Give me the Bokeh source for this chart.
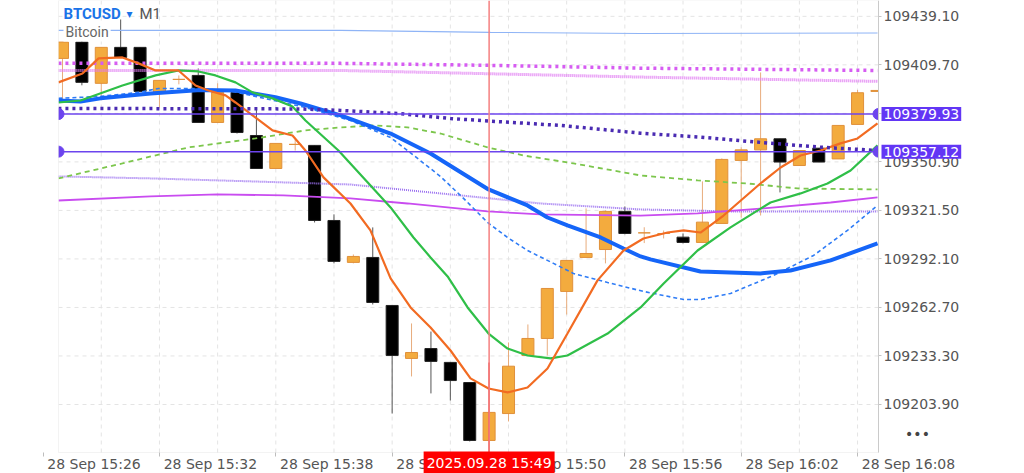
from bokeh.plotting import figure
from bokeh.models import (Range1d, FixedTicker, PrintfTickFormatter, Label, Span, ColumnDataSource,
                          LinearAxis, BoxAnnotation)
from bokeh.embed import file_html
from bokeh.resources import INLINE

# ---------------- data ----------------
minutes = ["15:27", "15:28", "15:29", "15:30", "15:31", "15:32", "15:33", "15:34", "15:35", "15:36",
           "15:37", "15:38", "15:39", "15:40", "15:41", "15:42", "15:43", "15:44", "15:45", "15:46",
           "15:47", "15:48", "15:49", "15:50", "15:51", "15:52", "15:53", "15:54", "15:55", "15:56",
           "15:57", "15:58", "15:59", "16:00", "16:01", "16:02", "16:03", "16:04", "16:05", "16:06",
           "16:07", "16:08", "16:09"]
opens = [109413.6, 109423.5, 109398.5, 109420.3, 109420.3, 109393.0, 109400.9, 109403.3, 109374.8, 109393.0,
         109366.9, 109346.9, 109361.5, 109360.9, 109315.4, 109290.0, 109293.0, 109263.9, 109231.8, 109237.8,
         109229.4, 109217.2, 109182.1, 109198.4, 109233.6, 109243.9, 109272.4, 109293.0, 109297.8, 109320.9,
         109307.9, 109307.5, 109305.3, 109302.1, 109313.6, 109351.8, 109358.2, 109364.9, 109348.7, 109359.2,
         109352.7, 109373.6, 109393.6]
highs = [109423.5, 109424.0, 109420.3, 109437.2, 109420.3, 109400.3, 109403.3, 109407.5, 109398.5, 109393.0,
         109383.9, 109362.1, 109364.5, 109360.9, 109319.1, 109294.8, 109311.2, 109263.9, 109253.0, 109248.1,
         109229.4, 109217.2, 109199.1, 109241.5, 109252.4, 109274.2, 109291.2, 109322.7, 109321.5, 109323.9,
         109311.3, 109309.3, 109307.5, 109339.1, 109353.0, 109359.7, 109405.1, 109364.9, 109357.8, 109359.2,
         109373.0, 109394.5, 109394.2]
lows = [109388.3, 109397.3, 109388.3, 109414.2, 109393.6, 109383.9, 109397.9, 109374.8, 109374.8, 109368.1,
        109346.9, 109346.9, 109357.8, 109314.2, 109289.4, 109289.4, 109264.5, 109198.4, 109220.9, 109210.6,
        109206.3, 109181.5, 109182.1, 109193.6, 109233.6, 109233.6, 109258.4, 109293.0, 109289.4, 109307.0,
        109301.7, 109304.5, 109301.5, 109302.1, 109313.6, 109317.2, 109318.4, 109332.4, 109348.7, 109350.8,
        109352.7, 109373.6, 109393.6]
closes = [109423.5, 109399.1, 109420.3, 109414.2, 109393.6, 109400.3, 109400.9, 109374.8, 109393.0, 109368.7,
          109346.9, 109362.1, 109361.5, 109315.4, 109290.6, 109293.6, 109265.7, 109233.6, 109235.4, 109230.0,
          109218.4, 109182.1, 109199.1, 109227.1, 109243.9, 109274.2, 109291.2, 109295.4, 109320.9, 109307.5,
          109307.9, 109307.5, 109302.1, 109314.4, 109352.4, 109358.2, 109364.9, 109350.8, 109357.8, 109350.8,
          109373.0, 109392.8, 109394.2]

# indicator lines (x = minute index counted from 15:27)
lightblue_x = [-0.21, 14.34, 22.07, 29.81, 42.03]
lightblue_y = [109430.6, 109430.6, 109429.4, 109428.7, 109429.0]
magdot_x = [-0.21, 14.34, 22.07, 29.81, 42.03]
magdot_y = [109410.6, 109410.6, 109409.4, 109407.7, 109406.3]
magfine_x = [-0.21, 14.34, 22.07, 29.81, 42.03]
magfine_y = [109406.3, 109406.3, 109404.3, 109402.3, 109399.7]
indigo_x = [-0.21, 12.27, 14.34, 17.43, 20.01, 22.07, 25.68, 29.81, 32.90, 36.0, 39.09, 42.03]
indigo_y = [109383.3, 109383.0, 109382.1, 109380.1, 109377.2, 109375.6, 109373.0, 109368.3, 109365.9,
            109362.7, 109359.8, 109357.8]
blue_x = [-0.21, 0.93, 1.96, 4.54, 7.12, 8.92, 10.98, 12.27, 14.34, 16.92, 18.98, 21.97, 23.98, 25.01,
          26.04, 27.75, 28.93, 29.81, 30.32, 32.90, 35.99, 37.54, 39.61, 42.03]
blue_y = [109388.1, 109387.5, 109389.4, 109392.4, 109394.5, 109394.2, 109390.1, 109386.3, 109379.1,
          109368.1, 109356.0, 109334.2, 109324.5, 109317.2, 109312.4, 109305.1, 109298.4, 109293.6,
          109291.8, 109284.5, 109283.3, 109285.1, 109291.2, 109301.5]
bluedash_x = [-0.21, 1.96, 3.92, 4.95, 7.01, 8.77, 9.95, 12.53, 14.85, 16.92, 17.79, 19.49, 20.68, 21.92,
              22.95, 23.98, 25.32, 26.35, 28.11, 29.96, 32.03, 32.90, 34.45, 36.67, 38.73, 40.48, 42.03]
bluedash_y = [109389.4, 109390.6, 109393.0, 109395.4, 109395.4, 109393.6, 109390.6, 109383.9, 109376.0,
              109365.7, 109357.8, 109342.1, 109328.8, 109314.2, 109305.1, 109297.2, 109289.4, 109283.3,
              109277.8, 109272.4, 109267.5, 109267.5, 109271.2, 109282.1, 109294.2, 109309.4, 109324.5]
green_x = [-0.21, 0.93, 3.09, 4.80, 5.98, 7.01, 7.89, 8.92, 9.80, 10.83, 11.86, 12.53, 14.23, 15.73, 16.92,
           18.10, 18.98, 19.86, 20.89, 21.97, 22.95, 23.98, 25.17, 26.04, 28.11, 29.81, 31.0, 32.75, 34.45,
           36.51, 38.06, 39.45, 40.64, 42.03]
green_y = [109386.9, 109388.1, 109397.2, 109403.3, 109406.3, 109405.7, 109403.3, 109399.1, 109393.0,
           109389.4, 109384.5, 109376.0, 109357.8, 109338.5, 109323.3, 109305.1, 109293.0, 109281.5,
           109262.7, 109246.9, 109237.8, 109233.6, 109231.8, 109233.6, 109246.9, 109262.7, 109277.2,
           109297.2, 109311.2, 109326.3, 109331.8, 109337.8, 109345.7, 109360.9]
orange_x = [-0.21, 1.03, 1.86, 3.09, 3.92, 4.80, 5.98, 6.86, 7.53, 8.41, 8.92, 9.80, 10.83, 11.86, 12.53,
            13.46, 14.85, 15.88, 16.92, 17.95, 18.98, 20.01, 21.04, 21.97, 22.95, 23.98, 25.01, 26.04,
            27.59, 28.93, 29.96, 31.20, 32.03, 32.90, 34.09, 35.99, 37.03, 38.06, 39.09, 40.12, 41.0, 42.03]
orange_y = [109399.1, 109404.5, 109413.6, 109414.2, 109410.6, 109406.3, 109406.3, 109397.2, 109394.2,
            109391.2, 109386.9, 109379.1, 109370.0, 109366.9, 109357.8, 109341.5, 109325.7, 109309.4,
            109280.3, 109262.7, 109250.6, 109236.6, 109219.7, 109213.6, 109211.2, 109214.2, 109225.7,
            109246.9, 109279.1, 109297.2, 109304.5, 109308.1, 109309.4, 109308.1, 109318.4, 109337.8,
            109347.5, 109354.8, 109357.8, 109362.1, 109365.1, 109374.2]
greendash_x = [-0.21, 3.09, 6.50, 9.95, 12.53, 14.34, 16.04, 17.79, 19.49, 21.92, 23.77, 26.35, 29.81,
               32.75, 35.33, 37.91, 42.03]
greendash_y = [109340.9, 109350.0, 109359.7, 109365.1, 109370.0, 109371.8, 109373.0, 109371.8, 109368.1,
               109359.7, 109354.8, 109350.0, 109342.7, 109339.7, 109337.8, 109334.8, 109334.2]
violet_x = [-0.21, 4.54, 9.70, 14.85, 19.49, 24.65, 29.81, 34.45, 42.03]
violet_y = [109342.1, 109340.9, 109339.1, 109337.2, 109331.8, 109325.7, 109322.1, 109320.9, 109320.9]
magenta_x = [-0.21, 4.54, 7.99, 11.40, 14.85, 17.79, 21.92, 24.65, 29.81, 32.75, 36.15, 39.61, 42.03]
magenta_y = [109327.5, 109330.0, 109331.2, 109330.6, 109328.8, 109325.7, 109320.9, 109319.1, 109318.4,
             109319.7, 109322.7, 109326.3, 109329.4]

levels = [109379.93, 109357.12]
level_labels = ["109379.93", "109357.12"]
cross_index = 22
cross_label = "2025.09.28 15:49"
cross_price = 109229.3

x_tick_idx = [-1, 5, 11, 17, 23, 29, 35, 41]
x_tick_labels = ["28 Sep 15:26", "28 Sep 15:32", "28 Sep 15:38", "28 Sep 15:44",
                 "28 Sep 15:50", "28 Sep 15:56", "28 Sep 16:02", "28 Sep 16:08"]
y_ticks = [109203.9, 109233.3, 109262.7, 109292.1, 109321.5, 109350.9, 109380.3, 109409.7, 109439.1]

# ---------------- geometry of the price pane ----------------
X0, X1 = -0.206, 42.08            # visible minute-index span of the price pane
Y0, Y1 = 109174.8, 109448.7       # visible price span of the price pane
PANE_L, PANE_R, PANE_B = 58, 878, 452   # pane edges in px on a 1024x473 canvas
ux = (X1 - X0) / (PANE_R - PANE_L)
uy = (Y1 - Y0) / PANE_B
XL, XR = X0 - PANE_L * ux, X1 + (1024 - PANE_R) * ux
YB = Y0 - (473 - PANE_B) * uy

p = figure(width=1024, height=473, x_range=Range1d(XL, XR), y_range=Range1d(YB, Y1),
           x_axis_location=None, y_axis_location=None, output_backend="svg", toolbar_location=None,
           min_border=0, min_border_left=0, min_border_right=0, min_border_top=0, min_border_bottom=0)
p.background_fill_color = "white"
p.border_fill_color = "white"
p.outline_line_color = None
p.xgrid.visible = False
p.ygrid.visible = False

FONT = "DejaVu Sans"

# grid (dashed) inside the price pane
grid_idx = [g for g in range(-1, 43, 3) if X0 <= g <= X1]
p.segment(x0=grid_idx, y0=[Y0] * len(grid_idx), x1=grid_idx, y1=[Y1] * len(grid_idx),
          line_color="#e4e4e4", line_dash="4 4", line_width=1)
p.segment(x0=[X0] * len(y_ticks), y0=y_ticks, x1=[X1] * len(y_ticks), y1=y_ticks,
          line_color="#e4e4e4", line_dash="4 4", line_width=1)

# candles
idx = list(range(len(minutes)))
up = [c >= o for o, c in zip(opens, closes)]
src = ColumnDataSource(dict(
    x=idx, o=opens, h=highs, l=lows, c=closes, minute=minutes,
    top=[max(o, c) for o, c in zip(opens, closes)],
    bottom=[min(o, c) for o, c in zip(opens, closes)],
    wick=["#e8ac7c" if u else "#555555" for u in up],
    fill=["#f3ab3e" if u else "#000000" for u in up],
    edge=["#e0903a" if u else "#222222" for u in up],
))
p.segment(x0="x", y0="h", x1="x", y1="l", source=src, line_color="wick", line_width=1)
p.vbar(x="x", width=0.62, top="top", bottom="bottom", source=src,
       fill_color="fill", line_color="edge", line_width=1)

# indicator lines
p.line(lightblue_x, lightblue_y, line_color="#8fb4f6", line_width=1.2)
p.line(magdot_x, magdot_y, line_color="#d65cf2", line_width=3.5, line_dash="3 4")
p.line(magfine_x, magfine_y, line_color="#e07af2", line_width=3, line_dash="1 1")
p.line(violet_x, violet_y, line_color="#9a6ff0", line_width=2, line_dash="1 1")
p.line(magenta_x, magenta_y, line_color="#c94cf0", line_width=1.8)
p.line(greendash_x, greendash_y, line_color="#7cc64c", line_width=1.8, line_dash="5 4")
p.line(bluedash_x, bluedash_y, line_color="#2f7cf6", line_width=1.6, line_dash="4 3")
p.line(blue_x, blue_y, line_color="#1565f8", line_width=4)
p.line(green_x, green_y, line_color="#2fbf48", line_width=2.2)
p.line(orange_x, orange_y, line_color="#f26b22", line_width=2.2)
p.line(indigo_x, indigo_y, line_color="#4a2bb2", line_width=3.5, line_dash="3 4")

# horizontal price levels with end handles
p.segment(x0=[X0] * len(levels), y0=levels, x1=[X1] * len(levels), y1=levels,
          line_color="#6c44ee", line_width=1.5)
p.scatter([X0] * len(levels) + [X1] * len(levels), levels + levels, size=11, marker="circle",
          fill_color="#6c44ee", line_color="#6c44ee")

# crosshair (dark part below the cursor price)
p.segment(x0=[cross_index], y0=[cross_price], x1=[cross_index], y1=[Y0], line_color="#e84040", line_width=1.5)

# white masks outside the pane, so marks are cut at its edges like the original pane
p.quad(left=[XL, X1], right=[X0, XR], bottom=[YB, Y0], top=[Y1, Y1], fill_color="white", line_color=None)

# pane border
p.add_layout(BoxAnnotation(left=X0, right=X1, bottom=Y0, top=Y1, fill_alpha=0,
                           line_color="#d6d6d6", line_width=1))

# axes pinned to the pane edges
xaxis = LinearAxis(fixed_location=Y0, bounds=(X0, XR))
xaxis.ticker = FixedTicker(ticks=[t + 2.625 for t in x_tick_idx], minor_ticks=x_tick_idx)
xaxis.major_label_overrides = {t + 2.625: s for t, s in zip(x_tick_idx, x_tick_labels)}
xaxis.major_tick_line_color = None
xaxis.major_tick_out = 0
xaxis.major_tick_in = 0
xaxis.minor_tick_line_color = "#bdbdbd"
xaxis.minor_tick_out = 4
xaxis.minor_tick_in = 0
xaxis.major_label_standoff = -1
xaxis.axis_line_color = None
xaxis.major_label_text_font = FONT
xaxis.major_label_text_font_size = "14px"
xaxis.major_label_text_color = "#555555"
p.add_layout(xaxis, "below")

yaxis = LinearAxis(fixed_location=X1, bounds=(Y0, Y1))
yaxis.ticker = FixedTicker(ticks=y_ticks)
yaxis.formatter = PrintfTickFormatter(format="%.2f")
yaxis.major_tick_out = 3
yaxis.major_tick_in = 0
yaxis.minor_tick_line_color = None
yaxis.major_tick_line_color = "#c4c4c4"
yaxis.axis_line_color = "#c4c4c4"
yaxis.major_label_standoff = 2
yaxis.major_label_text_font = FONT
yaxis.major_label_text_font_size = "14px"
yaxis.major_label_text_color = "#555555"
p.add_layout(yaxis, "right")

# crosshair line
p.add_layout(Span(location=cross_index, dimension="height", line_color="#f58080", line_width=1.5))

# labels
for lv, txt in zip(levels, level_labels):
    p.add_layout(Label(x=X1, y=lv, x_offset=3, text=txt, text_align="left", text_baseline="middle",
                       text_color="white", text_font=FONT, text_font_size="14px",
                       background_fill_color="#6236f5", padding=2))

p.add_layout(Label(x=cross_index, y=Y0 - 10 * uy, text=cross_label, text_align="center",
                   text_baseline="middle", text_color="white", text_font=FONT, text_font_size="14px",
                   background_fill_color="#ff0000", padding=3))

p.add_layout(Label(x=X1 + 39 * ux, y=Y0 + 19 * uy, text="•••", text_align="center", text_baseline="middle",
                   text_color="#444444", text_font=FONT, text_font_size="14px"))

p.add_layout(Label(x=X0, y=Y1 - 13 * uy, x_offset=5, text="BTCUSD", text_align="left", text_baseline="middle",
                   text_color="#1a73e8", text_font="Roboto", text_font_size="15px", text_font_style="bold"))
p.add_layout(Label(x=X0, y=Y1 - 13 * uy, x_offset=68, text="▾", text_align="left", text_baseline="middle",
                   text_color="#1a73e8", text_font=FONT, text_font_size="12px"))
p.add_layout(Label(x=X0, y=Y1 - 13 * uy, x_offset=81, text="M1", text_align="left", text_baseline="middle",
                   text_color="#555555", text_font="Roboto", text_font_size="15px"))
p.add_layout(Label(x=X0, y=Y1 - 31 * uy, x_offset=5, text="Bitcoin", text_align="left", text_baseline="middle",
                   text_color="#666666", text_font="Roboto", text_font_size="14px",
                   background_fill_color="white", padding=2))

open("out.html", "w").write(file_html(p, INLINE))
